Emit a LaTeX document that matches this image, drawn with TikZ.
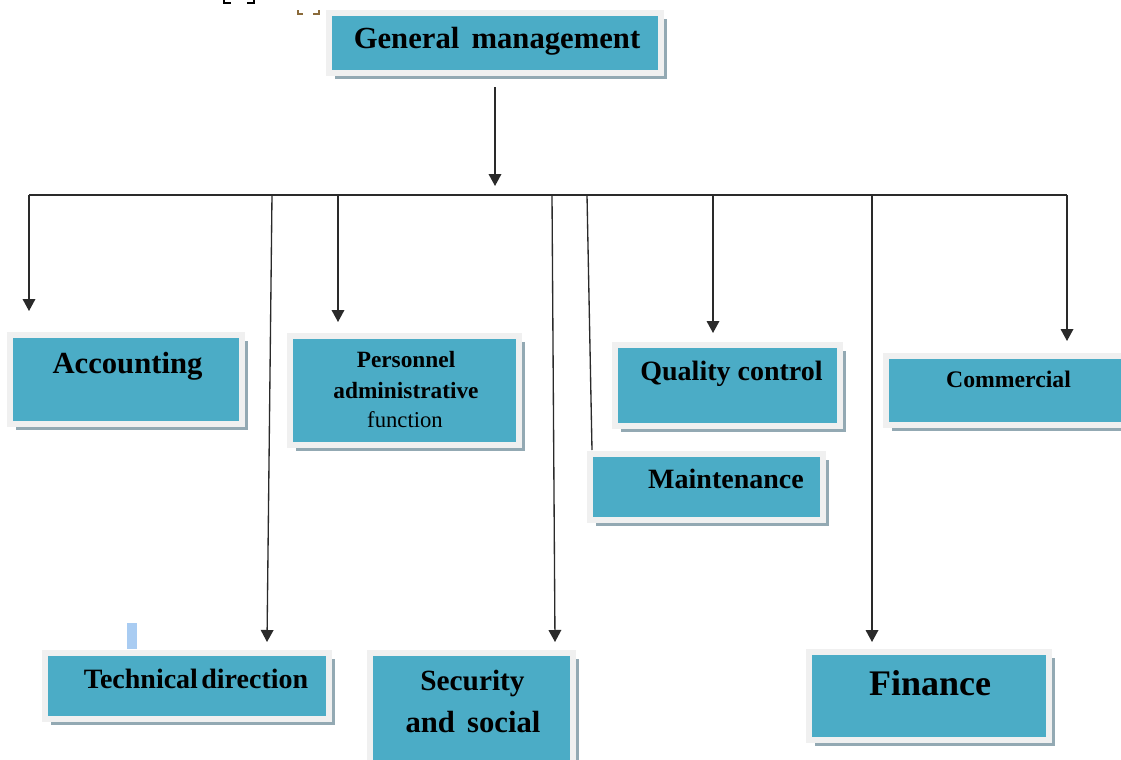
\documentclass[tikz,border=0pt]{standalone}
\usepackage{fontspec}
\setmainfont{Liberation Serif}
\usetikzlibrary{arrows.meta,calc,shadows}
\definecolor{unitfill}{HTML}{4BACC6}
\definecolor{unitframe}{HTML}{F0F0F0}
\definecolor{unitshadow}{HTML}{93A9B3}
\definecolor{wirecol}{HTML}{2A2A2A}
\definecolor{cursorcol}{HTML}{A9CCF2}
\definecolor{bracketcol}{HTML}{8A6A3A}
\begin{document}
\begin{tikzpicture}[x=0.75pt,y=-0.75pt,
  unit/.style={rectangle, fill=unitfill, draw=unitframe, line width=4.5pt, inner sep=0pt,
    drop shadow={shadow xshift=4.3pt, shadow yshift=-4.3pt, fill=unitshadow, opacity=1}},
  lbl/.style={anchor=base, inner sep=0pt, text=black},
  wire/.style={draw=wirecol, line width=1pt},
  arr/.style={wire, -{Triangle[width=9.5pt,length=9pt]}}]
\useasboundingbox (0,0) rectangle (1121,760);
\clip (0,0) rectangle (1121,760);

% organisational units
\node[unit, minimum width=249pt,    minimum height=45pt]    (gm)  at (495,43)    {};
\node[unit, minimum width=174pt,    minimum height=66.75pt] (acc) at (126,379.5) {};
\node[unit, minimum width=171.75pt, minimum height=81.75pt] (per) at (404.5,390.5) {};
\node[unit, minimum width=168.75pt, minimum height=60.75pt] (qua) at (727.5,385.5) {};
\node[unit, minimum width=174.75pt, minimum height=49.5pt]  (mai) at (706.5,487) {};
\node[unit, minimum width=184.5pt,  minimum height=51.75pt] (com) at (1009,390.5) {};
\node[unit, minimum width=213pt,    minimum height=49.5pt]  (tec) at (187,686) {};
\node[unit, minimum width=152.25pt, minimum height=93pt]    (sec) at (471.5,715) {};
\node[unit, minimum width=180pt,    minimum height=66pt]    (fin) at (929,696) {};

% labels
\node[lbl, font=\bfseries\fontsize{23}{27}\selectfont] (gmT) at (497,48) {General\hspace{0.15em} management};
\node[lbl, font=\bfseries\fontsize{23}{27}\selectfont] (accT) at (127.5,373) {Accounting};
\node[lbl, font=\bfseries\fontsize{17.5}{21}\selectfont] (perA) at (406,367) {Personnel};
\node[lbl, font=\bfseries\fontsize{17.5}{21}\selectfont] (perB) at (406,398) {administrative};
\node[lbl, font=\fontsize{17}{21}\selectfont] (perC) at (405,427) {function};
\node[lbl, font=\bfseries\fontsize{21}{25}\selectfont] (quaT) at (731.5,380) {Quality control};
\node[lbl, font=\bfseries\fontsize{21}{25}\selectfont] (maiT) at (726,488) {Maintenance};
\node[lbl, font=\bfseries\fontsize{17.8}{21}\selectfont] (comT) at (1008.5,387) {Commercial};
\node[lbl, font=\bfseries\fontsize{21}{25}\selectfont] (tecT) at (196,688) {Technical\hspace{0.12em}direction};
\node[lbl, font=\bfseries\fontsize{22}{26}\selectfont] (secA) at (472.5,690) {Security};
\node[lbl, font=\bfseries\fontsize{23}{27}\selectfont] (secB) at (473,732) {and\hspace{0.15em} social};
\node[lbl, font=\bfseries\fontsize{27}{32}\selectfont] (finT) at (930,695) {Finance};

% bus taps
\coordinate (gmout)  at (495,87);
\coordinate (bus)    at (495,195);
\coordinate (tapAcc) at (29,195);
\coordinate (tapTec) at (272,195);
\coordinate (tapPer) at (338,195);
\coordinate (tapSec) at (552,195);
\coordinate (tapMai) at (587,195);
\coordinate (tapQua) at (713,195);
\coordinate (tapFin) at (872,195);
\coordinate (tapCom) at (1067,195);

% connectors
\draw[arr] (gmout) -- ($(bus)+(0,-9)$);
\draw[wire] (tapAcc) -- (tapCom);
\draw[arr] (tapAcc) -- ($(tapAcc |- acc.north)+(0,-21)$);
\draw[arr] (tapTec) -- ($(tec.north)+(80,-8)$);
\draw[arr] (tapPer) -- ($(tapPer |- per.north)+(0,-11)$);
\draw[arr] (tapSec) -- ($(sec.north)+(83.5,-8)$);
\draw[wire] (tapMai) -- ($(mai.north west)+(5,-1)$);
\draw[arr] (tapQua) -- ($(tapQua |- qua.north)+(0,-9)$);
\draw[arr] (tapFin) -- ($(tapFin |- fin.north)+(0,-7)$);
\draw[arr] (tapCom) -- ($(tapCom |- com.north)+(0,-12)$);

% text cursor mark
\fill[cursorcol] (127,623) rectangle (137,649);

% bracket fragments along the top edge
\draw[black, line width=1.2pt] (224,-2) -- (224,3) -- (231,3);
\draw[black, line width=1.2pt] (247,3) -- (254,3) -- (254,-2);
\draw[bracketcol, line width=1.2pt] (298,10) -- (298,14) -- (303,14);
\draw[bracketcol, line width=1.2pt] (313,14) -- (319,14) -- (319,10);
\end{tikzpicture}
\end{document}
